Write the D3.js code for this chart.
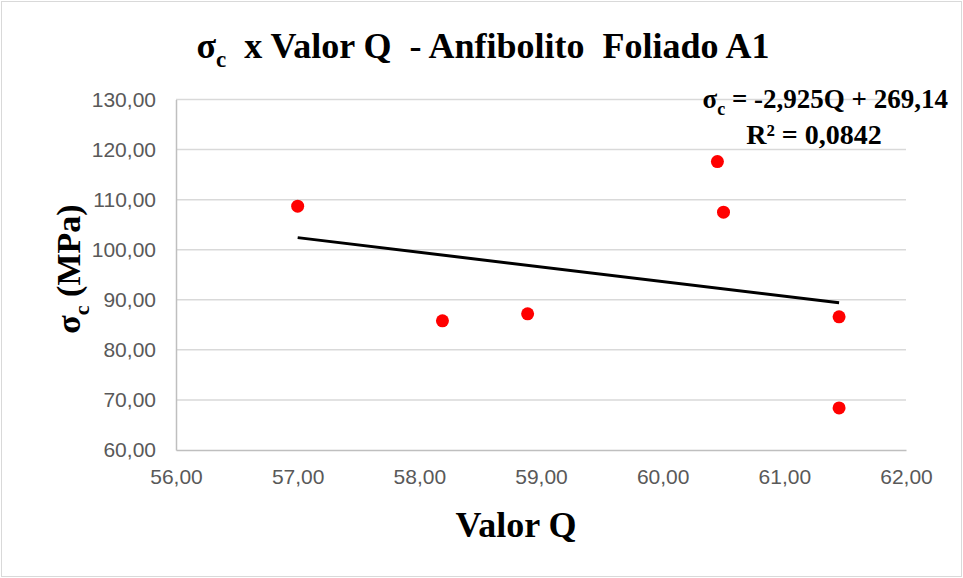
<!DOCTYPE html>
<html>
<head>
<meta charset="utf-8">
<script src="https://cdn.jsdelivr.net/npm/d3@7"></script>
<style>
  body { margin: 0; background: #fff; }
  svg { display: block; }
  text { white-space: pre; }
</style>
</head>
<body>
<svg id="chart" width="963" height="578"></svg>
<script>
// dados
const valorQ = [57.00, 58.19, 58.89, 60.45, 60.50, 61.45, 61.45]
const sigmaC = [108.7, 85.8, 87.2, 117.6, 107.5, 86.6, 68.4]
const xTicks = [56, 57, 58, 59, 60, 61, 62]
const yTicks = [60, 70, 80, 90, 100, 110, 120, 130]
const slope = -2.925
const intercept = 269.14

const svg = d3.select('#chart')
const fmt = d => d.toFixed(2).replace('.', ',')

// borda do gráfico
svg.append('rect')
    .attr('x', 1.5).attr('y', 1.5)
    .attr('width', 960).attr('height', 575)
    .attr('fill', '#fff').attr('stroke', '#d9d9d9')

const x = d3.scaleLinear().domain([56, 62]).range([176, 906])
const y = d3.scaleLinear().domain([60, 130]).range([450, 99.5])

// grade horizontal
svg.append('g')
    .selectAll('line')
    .data(yTicks.slice(1))
    .join('line')
    .attr('x1', x(56)).attr('x2', x(62))
    .attr('y1', d => y(d)).attr('y2', d => y(d))
    .attr('stroke', '#d9d9d9').attr('stroke-width', 1.5)

// eixos
const yAxis = svg.append('g')
    .attr('transform', `translate(${x(56)},0)`)
    .call(d3.axisLeft(y).tickValues(yTicks).tickFormat(fmt).tickSize(0).tickPadding(20))
const xAxis = svg.append('g')
    .attr('transform', `translate(0,${y(60)})`)
    .call(d3.axisBottom(x).tickValues(xTicks).tickFormat(fmt).tickSize(0).tickPadding(19))

for (const ax of [xAxis, yAxis]) {
    ax.select('.domain').attr('stroke', '#bfbfbf').attr('stroke-width', 1.5)
    ax.selectAll('text')
        .attr('fill', '#595959')
        .style('font-family', '"Liberation Sans", Arial, sans-serif')
        .style('font-size', '21px')
}

// linha de tendência
const qMin = d3.min(valorQ), qMax = d3.max(valorQ)
svg.append('line')
    .attr('x1', x(qMin)).attr('y1', y(slope * qMin + intercept))
    .attr('x2', x(qMax)).attr('y2', y(slope * qMax + intercept))
    .attr('stroke', '#000').attr('stroke-width', 3)

// pontos
svg.append('g')
    .selectAll('circle')
    .data(valorQ.map((q, i) => [q, sigmaC[i]]))
    .join('circle')
    .attr('cx', d => x(d[0]))
    .attr('cy', d => y(d[1]))
    .attr('r', 6.5)
    .attr('fill', '#ff0000')

const serif = '"Liberation Serif", "Times New Roman", Times, serif'

// título
const title = svg.append('text')
    .attr('x', 483).attr('y', 58)
    .attr('text-anchor', 'middle')
    .style('font-family', serif).style('font-weight', 'bold').style('font-size', '36px')
title.append('tspan').text('σ')
title.append('tspan').attr('dy', 9).style('font-size', '23px').text('c')
title.append('tspan').attr('dy', -9).text('  x Valor Q  - Anfibolito  Foliado A1')

// equação
const eq = svg.append('text')
    .attr('x', 948).attr('y', 108)
    .attr('text-anchor', 'end')
    .style('font-family', serif).style('font-weight', 'bold').style('font-size', '27px')
eq.append('tspan').text('σ')
eq.append('tspan').attr('dy', 7).style('font-size', '18px').text('c')
eq.append('tspan').attr('dy', -7).text(` = ${String(slope).replace('.', ',')}Q + ${String(intercept).replace('.', ',')}`)

svg.append('text')
    .attr('x', 814).attr('y', 144)
    .attr('text-anchor', 'middle')
    .style('font-family', serif).style('font-weight', 'bold').style('font-size', '28px')
    .text('R² = 0,0842')

// título eixo x
svg.append('text')
    .attr('x', 516).attr('y', 537)
    .attr('text-anchor', 'middle')
    .style('font-family', serif).style('font-weight', 'bold').style('font-size', '36px')
    .text('Valor Q')

// título eixo y
const yt = svg.append('text')
    .attr('transform', 'translate(80,269) rotate(-90)')
    .attr('text-anchor', 'middle')
    .style('font-family', serif).style('font-weight', 'bold').style('font-size', '34px')
yt.append('tspan').text('σ')
yt.append('tspan').attr('dy', 9).style('font-size', '22px').text('c')
yt.append('tspan').attr('dy', -9).text(' (MPa)')
</script>
</body>
</html>
